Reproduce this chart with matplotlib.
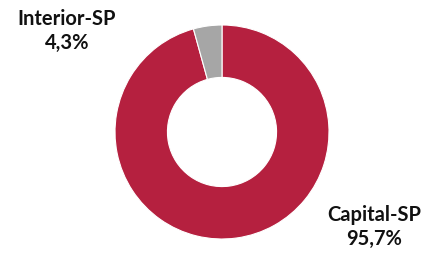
import matplotlib
matplotlib.use("Agg")
import matplotlib.pyplot as plt

labels = ["Capital-SP", "Interior-SP"]
values = [95.7, 4.3]
value_labels = ["95,7%", "4,3%"]
colors = ["#B5203F", "#A6A6A6"]

W, H = 434, 254
fig = plt.figure(figsize=(W / 100, H / 100), dpi=100)
ax = fig.add_axes([0, 0, 1, 1])

cx, cy, r = 222, H - 132, 107
ax.pie(values, colors=colors, startangle=90, counterclock=False,
       center=(cx, cy), radius=r, frame=True,
       wedgeprops=dict(width=r * 0.49, edgecolor="white", linewidth=0.8))
ax.set_xlim(0, W)
ax.set_ylim(0, H)
ax.set_aspect("equal")
ax.axis("off")

font = dict(family=["Lato", "DejaVu Sans"], fontweight="bold", fontsize=14.5, color="#111111")
ax.text(67, H - 31, f"{labels[1]}\n{value_labels[1]}", ha="center", va="center",
        linespacing=1.25, **font)
ax.text(374, H - 227, f"{labels[0]}\n{value_labels[0]}", ha="center", va="center",
        linespacing=1.25, **font)

fig.savefig("out.png", dpi=100)
